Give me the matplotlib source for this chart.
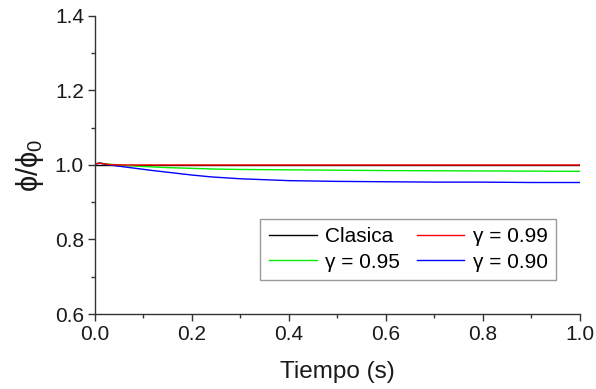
import matplotlib
matplotlib.use("Agg")
import matplotlib.pyplot as plt
from matplotlib.ticker import MultipleLocator, FormatStrFormatter

plt.rcParams['font.family'] = ['Liberation Sans', 'DejaVu Sans']
plt.rcParams['mathtext.fontset'] = 'custom'
plt.rcParams['mathtext.rm'] = 'Liberation Sans'
plt.rcParams['mathtext.it'] = 'Liberation Sans'

t_clasica = [0.0, 1.0]
y_clasica = [1.0, 1.0]

t_099 = [0.0, 0.01, 0.03, 0.06, 0.1, 0.3, 0.6, 1.0]
y_099 = [1.003, 1.005, 1.001, 1.0, 1.0, 1.0, 1.0, 1.0]

t_095 = [0.0, 0.01, 0.03, 0.06, 0.1, 0.15, 0.2, 0.25, 0.3, 0.4, 0.5, 0.6, 0.8, 1.0]
y_095 = [1.003, 1.005, 1.002, 0.999, 0.996, 0.993, 0.991, 0.989, 0.988, 0.987, 0.986, 0.985, 0.984, 0.983]

t_090 = [0.0, 0.01, 0.03, 0.06, 0.09, 0.12, 0.16, 0.2, 0.24, 0.3, 0.4, 0.5, 0.6, 0.7, 0.8, 0.9, 1.0]
y_090 = [1.003, 1.005, 1.0, 0.995, 0.990, 0.985, 0.979, 0.973, 0.968, 0.963, 0.958, 0.956, 0.955, 0.954, 0.954, 0.953, 0.953]

fig = plt.figure(figsize=(5.96, 3.89), dpi=100)
ax = fig.add_axes([0.1594, 0.1928, 0.8136, 0.7661])

l1, = ax.plot(t_clasica, y_clasica, color='black', lw=1.0, label='Clasica')
l3, = ax.plot(t_095, y_095, color='#00ee00', lw=1.0, label='γ = 0.95')
l4, = ax.plot(t_090, y_090, color='#0000ff', lw=1.0, label='γ = 0.90')
l2, = ax.plot(t_099, y_099, color='#ff0000', lw=1.0, label='γ = 0.99')

ax.set_xlim(0, 1.0)
ax.set_ylim(0.6, 1.4)
ax.xaxis.set_major_locator(MultipleLocator(0.2))
ax.xaxis.set_minor_locator(MultipleLocator(0.1))
ax.yaxis.set_major_locator(MultipleLocator(0.2))
ax.yaxis.set_minor_locator(MultipleLocator(0.1))
ax.xaxis.set_major_formatter(FormatStrFormatter('%.1f'))
ax.yaxis.set_major_formatter(FormatStrFormatter('%.1f'))

for s in ['top', 'right']:
    ax.spines[s].set_visible(False)
for s in ['left', 'bottom']:
    ax.spines[s].set_color('#333333')
    ax.spines[s].set_linewidth(1.0)

ax.tick_params(which='major', direction='out', length=5, width=1, colors='#333333',
               labelsize=15, labelcolor='#1a1a1a', pad=3)
ax.tick_params(which='minor', direction='out', length=3, width=1, colors='#333333')

ax.set_xlabel('Tiempo (s)', fontsize=17.5, color='#1a1a1a', labelpad=12)
ax.set_ylabel('ϕ/ϕ$_0$', fontsize=21, color='#1a1a1a', labelpad=6)

leg = ax.legend(handles=[l1, l3, l2, l4], ncol=2, loc='lower right',
                bbox_to_anchor=(0.951, 0.114), borderaxespad=0, fontsize=15,
                fancybox=False, edgecolor='#999999', framealpha=1,
                handlelength=2.3, columnspacing=0.8, handletextpad=0.4,
                labelspacing=0.3, borderpad=0.4)
leg.get_frame().set_linewidth(1.0)

fig.savefig('out.png', dpi=100)
